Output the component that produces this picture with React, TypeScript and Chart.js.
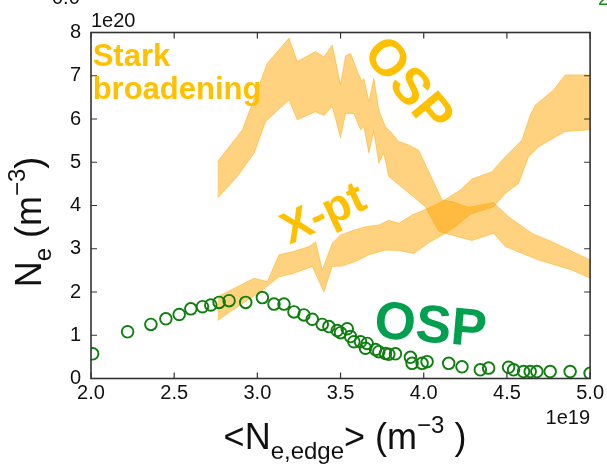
import React, { useEffect, useRef } from 'react';
import { Chart, registerables } from 'chart.js';

Chart.register(...registerables);

const FONT = '"Liberation Sans", Arial, Helvetica, sans-serif';

// <N_e,edge> in units of 1e19 m^-3, N_e in units of 1e20 m^-3
const xTicks = [2.0, 2.5, 3.0, 3.5, 4.0, 4.5, 5.0];
const yTicks = [0, 1, 2, 3, 4, 5, 6, 7, 8];

// OSP density (open green circles)
const ospX = [2.01, 2.22, 2.36, 2.45, 2.53, 2.60, 2.67, 2.72, 2.77, 2.83, 2.93, 3.03, 3.10, 3.16, 3.22, 3.28, 3.33, 3.39, 3.43, 3.48, 3.50, 3.54, 3.56, 3.58, 3.62, 3.65, 3.66, 3.71, 3.73, 3.77, 3.79, 3.83, 3.92, 3.93, 3.99, 4.02, 4.15, 4.23, 4.34, 4.39, 4.51, 4.54, 4.60, 4.64, 4.68, 4.76, 4.88, 5.00];
const ospY = [0.57, 1.08, 1.25, 1.38, 1.48, 1.61, 1.66, 1.70, 1.76, 1.80, 1.76, 1.87, 1.72, 1.72, 1.54, 1.47, 1.37, 1.25, 1.20, 1.11, 1.06, 1.15, 0.97, 0.85, 0.85, 0.70, 0.81, 0.67, 0.62, 0.58, 0.56, 0.57, 0.49, 0.35, 0.35, 0.39, 0.35, 0.27, 0.20, 0.24, 0.26, 0.20, 0.16, 0.16, 0.16, 0.16, 0.16, 0.12];

// Stark broadening at the OSP: upper and lower edge of the band
const starkOspHiX = [2.76, 2.91, 3.06, 3.19, 3.24, 3.35, 3.40, 3.45, 3.50, 3.53, 3.56, 3.61, 3.63, 3.64, 3.67, 3.70, 3.73, 3.77, 3.80, 3.85, 3.91, 3.97, 4.11, 4.17, 4.27, 4.42, 4.51, 4.65, 4.79, 5.00];
const starkOspHiY = [5.01, 5.75, 7.29, 7.87, 7.33, 7.56, 7.44, 7.71, 6.79, 7.46, 7.52, 7.02, 6.86, 6.94, 6.40, 6.94, 6.21, 5.82, 5.71, 5.48, 5.40, 5.28, 4.13, 4.09, 3.96, 4.07, 3.74, 3.36, 3.13, 2.74];
const starkOspLoX = [2.76, 2.88, 2.98, 3.05, 3.19, 3.24, 3.35, 3.40, 3.45, 3.50, 3.53, 3.58, 3.62, 3.64, 3.67, 3.70, 3.73, 3.76, 3.79, 3.85, 3.92, 4.01, 4.09, 4.29, 4.42, 4.49, 4.69, 4.89, 5.00];
const starkOspLoY = [4.17, 4.67, 5.21, 5.94, 6.44, 5.98, 6.17, 6.08, 6.29, 5.57, 6.13, 6.13, 5.75, 5.82, 5.22, 5.71, 4.98, 5.21, 4.67, 4.48, 4.26, 3.97, 3.40, 3.19, 3.36, 3.05, 2.74, 2.51, 2.32];

// Stark broadening at the X-point: upper and lower edge of the band
const starkXptHiX = [2.76, 2.98, 3.06, 3.13, 3.21, 3.31, 3.35, 3.39, 3.45, 3.50, 3.58, 3.65, 3.73, 3.79, 3.85, 3.93, 4.03, 4.11, 4.22, 4.29, 4.41, 4.49, 4.59, 4.64, 4.67, 4.78, 4.85, 5.00];
const starkXptHiY = [1.89, 2.32, 2.24, 2.86, 2.93, 3.05, 3.16, 2.51, 3.13, 3.32, 3.43, 3.51, 3.55, 3.66, 3.59, 3.78, 3.94, 4.09, 4.36, 4.61, 4.78, 5.13, 5.51, 6.09, 6.32, 6.67, 7.02, 7.02];
const starkXptLoX = [2.76, 2.89, 3.02, 3.13, 3.21, 3.33, 3.40, 3.45, 3.51, 3.60, 3.67, 3.77, 3.85, 3.94, 4.03, 4.13, 4.19, 4.28, 4.42, 4.49, 4.57, 4.63, 4.69, 4.85, 5.00];
const starkXptLoY = [1.34, 1.68, 2.01, 2.35, 2.42, 2.59, 2.00, 2.59, 2.60, 2.72, 2.86, 2.97, 2.96, 2.89, 3.14, 3.36, 3.51, 3.80, 3.97, 4.28, 4.51, 5.13, 5.36, 5.71, 5.75];

const BAND_FILL = 'rgba(255, 165, 0, 0.5)';
const BAND_EDGE = 'rgba(255, 165, 0, 0.45)';
const GOLD = '#FFC000';
const GREEN_TEXT = '#00A04E';
const GREEN_MARK = '#0E7F0E';
const FRAME = '#333333';

const pts = (xs: number[], ys: number[]) => xs.map((x, i) => ({ x, y: ys[i] }));

type Run = { t: string; size: number; dy: number };

function drawRuns(ctx: CanvasRenderingContext2D, runs: Run[], cx: number, baseY: number) {
  let w = 0;
  for (const r of runs) {
    ctx.font = `${r.size}px ${FONT}`;
    w += ctx.measureText(r.t).width;
  }
  let x = cx - w / 2;
  ctx.textAlign = 'left';
  ctx.textBaseline = 'alphabetic';
  for (const r of runs) {
    ctx.font = `${r.size}px ${FONT}`;
    ctx.fillText(r.t, x, baseY + r.dy);
    x += ctx.measureText(r.t).width;
  }
}

const decorPlugin = {
  id: 'decor',
  afterDraw(chart: any) {
    const { ctx, chartArea: a, scales } = chart;
    const xs = scales.x;
    const ys = scales.y;
    ctx.save();

    // frame with inward ticks on all four sides
    ctx.strokeStyle = FRAME;
    ctx.lineWidth = 1.6;
    ctx.strokeRect(a.left, a.top, a.right - a.left, a.bottom - a.top);
    ctx.lineWidth = 1.2;
    ctx.beginPath();
    for (const v of xTicks) {
      const p = xs.getPixelForValue(v);
      ctx.moveTo(p, a.bottom);
      ctx.lineTo(p, a.bottom - 6);
      ctx.moveTo(p, a.top);
      ctx.lineTo(p, a.top + 6);
    }
    for (const v of yTicks) {
      const p = ys.getPixelForValue(v);
      ctx.moveTo(a.left, p);
      ctx.lineTo(a.left + 6, p);
      ctx.moveTo(a.right, p);
      ctx.lineTo(a.right - 6, p);
    }
    ctx.stroke();

    // offset labels
    ctx.fillStyle = '#111';
    ctx.font = `20px ${FONT}`;
    ctx.textAlign = 'left';
    ctx.textBaseline = 'alphabetic';
    ctx.fillText('1e20', a.left, a.top - 6);
    ctx.textAlign = 'right';
    ctx.fillText('1e19', a.right, 424);

    // partial labels at the top edge
    ctx.textAlign = 'left';
    ctx.fillText('0.0', 52, 4);
    ctx.fillStyle = '#1a8a1a';
    ctx.fillText('2', 598, 5);

    // axis titles
    ctx.fillStyle = '#111';
    drawRuns(
      ctx,
      [
        { t: '<N', size: 36, dy: 0 },
        { t: 'e,edge', size: 24, dy: 10 },
        { t: '> (m', size: 36, dy: 0 },
        { t: '\u22123', size: 24, dy: -16 },
        { t: ' )', size: 36, dy: 0 },
      ],
      345,
      449
    );
    ctx.save();
    ctx.translate(41, 222);
    ctx.rotate(-Math.PI / 2);
    drawRuns(
      ctx,
      [
        { t: 'N', size: 36, dy: 0 },
        { t: 'e', size: 24, dy: 10 },
        { t: ' (m', size: 36, dy: 0 },
        { t: '\u22123', size: 24, dy: -16 },
        { t: ')', size: 36, dy: 0 },
      ],
      0,
      0
    );
    ctx.restore();

    // annotations
    ctx.fillStyle = GOLD;
    ctx.font = `bold 31px ${FONT}`;
    ctx.textAlign = 'left';
    ctx.textBaseline = 'alphabetic';
    const sx = xs.getPixelForValue(2.01);
    const sy = ys.getPixelForValue(7.22);
    ctx.fillText('Stark', sx, sy);
    ctx.fillText('broadening', sx, sy + 33);

    const label = (text: string, x: number, y: number, deg: number, size: number, color: string) => {
      ctx.save();
      ctx.translate(xs.getPixelForValue(x), ys.getPixelForValue(y));
      ctx.rotate((deg * Math.PI) / 180);
      ctx.fillStyle = color;
      ctx.font = `bold ${size}px ${FONT}`;
      ctx.textAlign = 'center';
      ctx.textBaseline = 'middle';
      ctx.fillText(text, 0, 0);
      ctx.restore();
    };
    label('OSP', 3.90, 6.76, 50, 51, GOLD);
    label('X-pt', 3.40, 3.78, -25, 45, GOLD);
    label('OSP', 4.04, 1.18, 5, 53, GREEN_TEXT);

    ctx.restore();
  },
};

export default function App() {
  const canvasRef = useRef<HTMLCanvasElement | null>(null);

  useEffect(() => {
    const canvas = canvasRef.current;
    if (!canvas) return;
    const edge = (xs: number[], ys: number[], fill: any, order: number) => ({
      data: pts(xs, ys),
      borderColor: BAND_EDGE,
      borderWidth: 1,
      backgroundColor: BAND_FILL,
      pointRadius: 0,
      pointHitRadius: 0,
      tension: 0,
      fill,
      order,
    });
    const chart = new Chart(canvas, {
      type: 'line',
      data: {
        datasets: [
          {
            data: pts(ospX, ospY),
            showLine: false,
            pointRadius: 5.8,
            pointBorderWidth: 1.9,
            pointBorderColor: GREEN_MARK,
            pointBackgroundColor: 'rgba(0,0,0,0)',
            order: 0,
          },
          edge(starkOspLoX, starkOspLoY, false, 2),
          edge(starkOspHiX, starkOspHiY, '-1', 2),
          edge(starkXptLoX, starkXptLoY, false, 1),
          edge(starkXptHiX, starkXptHiY, '-1', 1),
        ] as any,
      },
      options: {
        animation: false,
        responsive: false,
        devicePixelRatio: 1,
        layout: { padding: { top: 32.5, right: 14.5, left: 0, bottom: 0 } },
        plugins: { legend: { display: false }, tooltip: { enabled: false } },
        scales: {
          x: {
            type: 'linear',
            min: 2,
            max: 5,
            afterBuildTicks: (s: any) => {
              s.ticks = xTicks.map((v) => ({ value: v }));
            },
            afterFit: (s: any) => {
              s.height = 86.5;
            },
            grid: { display: false, drawTicks: false },
            border: { display: false },
            ticks: {
              autoSkip: false,
              maxRotation: 0,
              padding: 3,
              color: '#111',
              font: { family: FONT, size: 20 },
              callback: (v: any) => Number(v).toFixed(1),
            },
          },
          y: {
            type: 'linear',
            min: 0,
            max: 8,
            afterBuildTicks: (s: any) => {
              s.ticks = yTicks.map((v) => ({ value: v }));
            },
            afterFit: (s: any) => {
              s.width = 91;
            },
            grid: { display: false, drawTicks: false },
            border: { display: false },
            ticks: {
              autoSkip: false,
              padding: 10,
              color: '#111',
              font: { family: FONT, size: 20 },
              callback: (v: any) => String(v),
            },
          },
        },
      },
      plugins: [decorPlugin],
    } as any);
    return () => chart.destroy();
  }, []);

  return (
    <div style={{ position: 'fixed', left: 0, top: 0, width: 607, height: 465, background: '#fff' }}>
      <canvas ref={canvasRef} width={607} height={465} />
    </div>
  );
}
